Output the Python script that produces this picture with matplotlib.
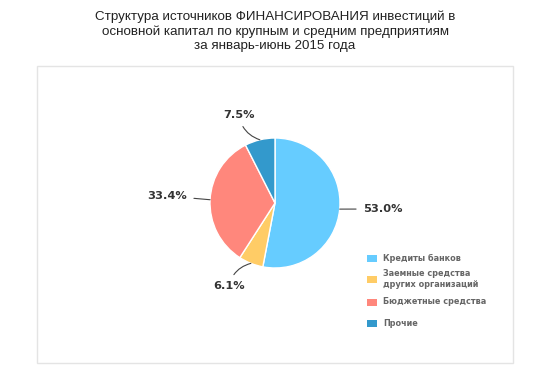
import matplotlib
matplotlib.use("Agg")
import matplotlib.pyplot as plt
from matplotlib.patches import Rectangle
import numpy as np

title = ("Структура источников ФИНАНСИРОВАНИЯ инвестиций в\n"
         "основной капитал по крупным и средним предприятиям\n"
         "за январь-июнь 2015 года")
categories = ["Кредиты банков", "Заемные средства\nдругих организаций",
              "Бюджетные средства", "Прочие"]
values = [53.0, 6.1, 33.4, 7.5]
colors = ["#66CCFF", "#FFCC66", "#FF877C", "#3399CC"]

W, H = 550, 367
fig = plt.figure(figsize=(W / 100, H / 100), dpi=100)
fig.patch.set_facecolor("white")

def fx(px):
    return px / W

def fy(py):
    return 1 - py / H

# outer light frame
fig.add_artist(Rectangle((fx(37), fy(363)), (513 - 37) / W, (363 - 66) / H,
                         transform=fig.transFigure, fill=False,
                         edgecolor="#e4e4e4", lw=1.0))

fig.text(0.5, fy(31), title, ha="center", va="center", fontsize=9.6,
         color="#222222", linespacing=1.25, family="Liberation Sans")

# pie axes: center (275,203) px, radius 65 px
R = 65.0
cx, cy = 275, 203
half = 150
ax = fig.add_axes([fx(cx - half), fy(cy + half), 2 * half / W, 2 * half / H])

wedges, _ = ax.pie(values, colors=colors, startangle=90, counterclock=False,
                   radius=1.0, wedgeprops=dict(edgecolor="white", linewidth=1.0))
lim = half / R
ax.set_xlim(-lim, lim)
ax.set_ylim(-lim, lim)
ax.set_aspect("equal")
ax.axis("off")

# label text positions (pixel coordinates) and connector curvature
label_pos = [(363, 209, "left", 0.0), (229, 286, "center", -0.3),
             (187, 196, "right", 0.0), (239, 115, "center", 0.3)]
for w, v, (px, py, ha, rad) in zip(wedges, values, label_pos):
    ang = np.deg2rad((w.theta1 + w.theta2) / 2)
    xy = (np.cos(ang), np.sin(ang))
    tx, ty = (px - cx) / R, -(py - cy) / R
    ax.annotate(f"{v:.1f}%", xy=xy, xytext=(tx, ty), ha=ha, va="center",
                fontsize=8.2, fontweight="bold", color="#333333",
                annotation_clip=False,
                arrowprops=dict(arrowstyle="-", color="#444444", lw=0.8,
                                shrinkA=3, shrinkB=0,
                                connectionstyle=f"arc3,rad={rad}"))

# legend (drawn manually to match the reference spacing)
legend_rows = [258, 279, 302, 323]
for name, c, ry in zip(categories, colors, legend_rows):
    fig.add_artist(Rectangle((fx(367), fy(ry + 3.5)), 10 / W, 7 / H,
                             transform=fig.transFigure, facecolor=c,
                             edgecolor="none"))
    fig.text(fx(383), fy(ry), name, ha="left", va="center", fontsize=5.9,
             fontweight="bold", color="#666666", linespacing=1.15)

fig.savefig("out.png", dpi=100, facecolor="white")
